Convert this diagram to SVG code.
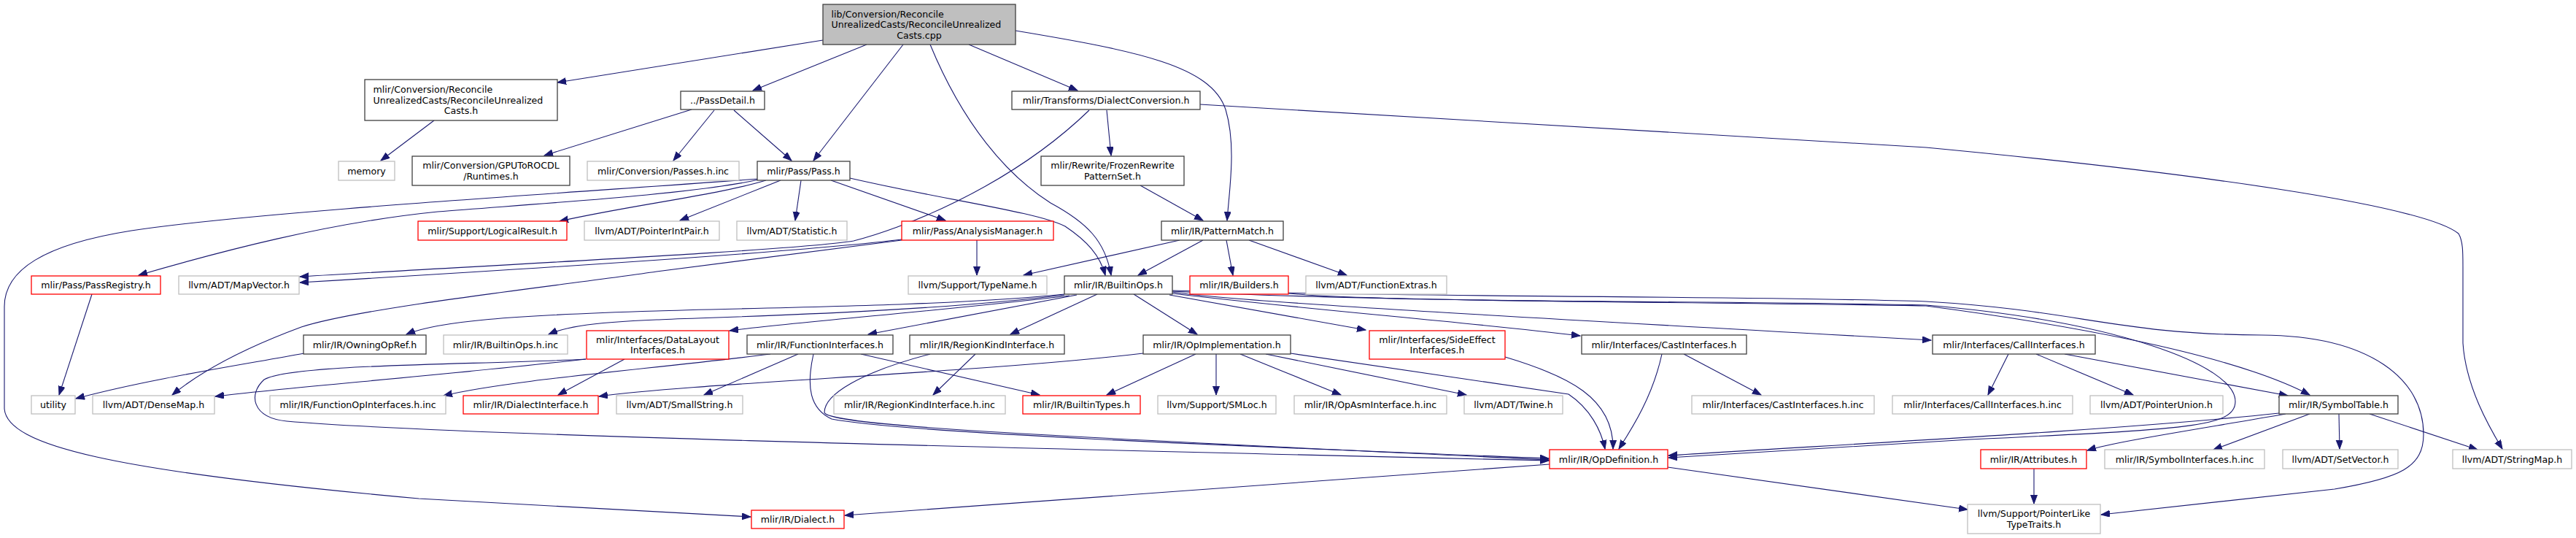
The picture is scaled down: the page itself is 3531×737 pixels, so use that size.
<svg xmlns="http://www.w3.org/2000/svg" width="3531" height="737" viewBox="0 0 3531 737">
<defs>
<style>
.n rect{fill:#fff;stroke-width:1.3}
.b rect{stroke:#404040}
.g rect{stroke:#bfbfbf}
.r rect{stroke:#ff0000}
.m rect{fill:#bfbfbf;stroke:#404040}
text{font-family:"DejaVu Sans",sans-serif;font-size:12.6px;fill:#000}
.c{text-anchor:middle}
.s{text-anchor:start}
#edges path{fill:none;stroke:#191970;stroke-width:1.1;marker-end:url(#ah)}
</style>
<marker id="ah" markerUnits="userSpaceOnUse" markerWidth="13" markerHeight="10" refX="12" refY="4.5" orient="auto"><path d="M0,0 L12,4.5 L0,9 z" fill="#191970" stroke="#191970" stroke-width="1"/></marker>
</defs>
<rect x="0" y="0" width="3531" height="737" fill="#fff"/>
<g id="edges">
<path d="M1128,55 L764,113"/>
<path d="M1188,61 L1032,124"/>
<path d="M1238,61 L1115,220"/>
<path d="M1275,61 C1320,170 1380,240 1440,278 C1490,305 1515,330 1523,377"/>
<path d="M1328,61 L1477,124"/>
<path d="M1392,42 C1560,70 1660,90 1680,150 C1695,200 1685,260 1682,302"/>
<path d="M595,165 L522,220"/>
<path d="M948,150 L746,213"/>
<path d="M979,151 L923,220"/>
<path d="M1006,151 L1085,220"/>
<path d="M1517,151 L1523,213"/>
<path d="M1645,143 L2640,202 C3000,236 3320,280 3370,320 C3376,330 3376,345 3376,365 L3376,470 C3380,530 3412,585 3430,615"/>
<path d="M1493,151 C1380,260 1230,315 1170,330 C1100,342 700,362 411,379"/>
<path d="M1236,328 C1100,345 700,370 411,387"/>
<path d="M1236,329 L900,372 C780,390 500,420 413,448 C340,475 280,505 236,541"/>
<path d="M1339,329 L1339,377"/>
<path d="M1617,329 L1403,377"/>
<path d="M1649,329 L1560,377"/>
<path d="M1681,329 L1690,377"/>
<path d="M1712,329 L1846,377"/>
<path d="M1563,254 L1649,302"/>
<path d="M1050,247 C980,268 870,280 767,303"/>
<path d="M1070,247 L932,302"/>
<path d="M1098,247 L1090,302"/>
<path d="M1139,247 L1296,302"/>
<path d="M1165,244 C1300,275 1420,290 1460,310 C1490,330 1508,350 1515,377"/>
<path d="M1040,246 C950,266 750,278 600,290 C450,305 300,345 190,377"/>
<path d="M1040,245 C800,263 350,290 180,316 C60,335 6,370 6,420 L6,560 C10,610 150,645 574,683 L1029,708"/>
<path d="M417,484 C330,500 200,520 104,546"/>
<path d="M126,403 L81,541"/>
<path d="M1459,403 C1300,420 1000,422 900,426 C700,432 600,440 557,458"/>
<path d="M1459,404 C1250,430 950,435 900,438 C800,442 770,450 752,458"/>
<path d="M1466,405 C1300,425 1100,440 1000,453"/>
<path d="M1476,404 L1190,458"/>
<path d="M1504,403 L1385,458"/>
<path d="M1554,403 L1641,458"/>
<path d="M1603,404 L1872,452"/>
<path d="M1607,402 C1800,425 2000,440 2166,460"/>
<path d="M1607,400 C1680,412 2000,430 2647,466"/>
<path d="M1607,399 C1900,414 2400,414 2640,419 C2800,440 3050,480 3166,541"/>
<path d="M1607,398 C2000,408 2400,405 2640,413 C2850,425 2900,458 3100,459 C3250,460 3322,520 3322,595 C3322,640 3290,655 3200,670 L2880,705"/>
<path d="M1766,402 C1900,415 2400,412 2640,418 C2900,440 3064,500 3064,550 C3064,585 3000,588 2700,602 L2287,627"/>
<path d="M3124,566 C2900,590 2500,610 2287,624"/>
<path d="M3133,567 C3000,590 2900,605 2861,617"/>
<path d="M3166,567 L3034,616"/>
<path d="M3206,567 L3207,615"/>
<path d="M3248,567 L3396,616"/>
<path d="M2753,485 L2725,541"/>
<path d="M2791,485 L2924,541"/>
<path d="M2830,485 L3136,542"/>
<path d="M2788,642 L2788,690"/>
<path d="M2286,640 L2697,698"/>
<path d="M2124,636 L1158,706"/>
<path d="M2278,485 C2265,545 2235,590 2219,615"/>
<path d="M2308,485 L2414,541"/>
<path d="M2063,489 C2150,515 2212,545 2211,615"/>
<path d="M1769,484 L2150,540 C2180,560 2195,590 2200,615"/>
<path d="M1639,485 L1517,541"/>
<path d="M1667,485 L1667,541"/>
<path d="M1700,485 L1838,541"/>
<path d="M1735,485 L2010,541"/>
<path d="M1567,484 C1350,510 950,525 821,543"/>
<path d="M1056,485 C900,505 700,520 608,542"/>
<path d="M1094,485 L965,541"/>
<path d="M1180,485 L1425,541"/>
<path d="M1115,485 C1105,530 1110,560 1140,574 C1250,595 1800,615 2123,628"/>
<path d="M1275,485 C1180,510 1130,540 1130,565 C1135,585 1500,600 2123,630"/>
<path d="M1337,485 L1279,541"/>
<path d="M803,492 C650,500 400,498 362,520 C340,540 345,572 393,577 C600,595 1300,612 2123,631"/>
<path d="M803,492 C600,515 400,530 295,543"/>
<path d="M856,492 L765,541"/>
</g>
<g id="n_main" class="n m"><rect x="1128" y="6" width="264" height="55"/><text class="s" x="1139.5" y="23.5">lib/Conversion/Reconcile</text><text class="s" x="1139.5" y="38">UnrealizedCasts/ReconcileUnrealized</text><text class="c" x="1260" y="52.5">Casts.cpp</text></g>
<g id="n_rch" class="n b"><rect x="500" y="109" width="264" height="56"/><text class="s" x="511.5" y="127">mlir/Conversion/Reconcile</text><text class="s" x="511.5" y="141.5">UnrealizedCasts/ReconcileUnrealized</text><text class="c" x="632" y="156">Casts.h</text></g>
<g id="n_passdetail" class="n b"><rect x="933" y="125" width="115" height="25"/><text class="c" x="990.5" y="142">../PassDetail.h</text></g>
<g id="n_dialectconv" class="n b"><rect x="1387" y="125" width="258" height="25"/><text class="c" x="1516" y="142">mlir/Transforms/DialectConversion.h</text></g>
<g id="n_memory" class="n g"><rect x="464" y="221" width="77" height="26"/><text class="c" x="502.5" y="238.5">memory</text></g>
<g id="n_gpu" class="n b"><rect x="565" y="214" width="216" height="40"/><text class="c" x="673" y="231">mlir/Conversion/GPUToROCDL</text><text class="c" x="673" y="246">/Runtimes.h</text></g>
<g id="n_passesinc" class="n g"><rect x="805" y="221" width="208" height="26"/><text class="c" x="909" y="238.5">mlir/Conversion/Passes.h.inc</text></g>
<g id="n_pass" class="n b"><rect x="1038" y="221" width="127" height="26"/><text class="c" x="1101.5" y="238.5">mlir/Pass/Pass.h</text></g>
<g id="n_frozen" class="n b"><rect x="1427" y="214" width="196" height="40"/><text class="c" x="1525" y="231">mlir/Rewrite/FrozenRewrite</text><text class="c" x="1525" y="246">PatternSet.h</text></g>
<g id="n_logical" class="n r"><rect x="573" y="303" width="204" height="26"/><text class="c" x="675" y="320.5">mlir/Support/LogicalResult.h</text></g>
<g id="n_pip" class="n g"><rect x="801" y="303" width="185" height="26"/><text class="c" x="893.5" y="320.5">llvm/ADT/PointerIntPair.h</text></g>
<g id="n_stat" class="n g"><rect x="1010" y="303" width="151" height="26"/><text class="c" x="1085.5" y="320.5">llvm/ADT/Statistic.h</text></g>
<g id="n_am" class="n r"><rect x="1236" y="303" width="208" height="26"/><text class="c" x="1340" y="320.5">mlir/Pass/AnalysisManager.h</text></g>
<g id="n_pm" class="n b"><rect x="1592" y="303" width="167" height="26"/><text class="c" x="1675.5" y="320.5">mlir/IR/PatternMatch.h</text></g>
<g id="n_passreg" class="n r"><rect x="43" y="378" width="177" height="25"/><text class="c" x="131.5" y="395">mlir/Pass/PassRegistry.h</text></g>
<g id="n_mapvector" class="n g"><rect x="245" y="378" width="165" height="25"/><text class="c" x="327.5" y="395">llvm/ADT/MapVector.h</text></g>
<g id="n_typename" class="n g"><rect x="1245" y="378" width="190" height="25"/><text class="c" x="1340" y="395">llvm/Support/TypeName.h</text></g>
<g id="n_builtinops" class="n b"><rect x="1459" y="378" width="148" height="25"/><text class="c" x="1533" y="395">mlir/IR/BuiltinOps.h</text></g>
<g id="n_builders" class="n r"><rect x="1631" y="378" width="135" height="25"/><text class="c" x="1698.5" y="395">mlir/IR/Builders.h</text></g>
<g id="n_funcextras" class="n g"><rect x="1790" y="378" width="193" height="25"/><text class="c" x="1886.5" y="395">llvm/ADT/FunctionExtras.h</text></g>
<g id="n_owning" class="n b"><rect x="416" y="459" width="168" height="26"/><text class="c" x="500" y="476.5">mlir/IR/OwningOpRef.h</text></g>
<g id="n_boinc" class="n g"><rect x="608" y="459" width="170" height="26"/><text class="c" x="693" y="476.5">mlir/IR/BuiltinOps.h.inc</text></g>
<g id="n_datalayout" class="n r"><rect x="804" y="453" width="195" height="39"/><text class="c" x="901.5" y="469.5">mlir/Interfaces/DataLayout</text><text class="c" x="901.5" y="484">Interfaces.h</text></g>
<g id="n_funcif" class="n b"><rect x="1024" y="459" width="200" height="26"/><text class="c" x="1124" y="476.5">mlir/IR/FunctionInterfaces.h</text></g>
<g id="n_regionkind" class="n b"><rect x="1247" y="459" width="212" height="26"/><text class="c" x="1353" y="476.5">mlir/IR/RegionKindInterface.h</text></g>
<g id="n_opimpl" class="n b"><rect x="1567" y="459" width="202" height="26"/><text class="c" x="1668" y="476.5">mlir/IR/OpImplementation.h</text></g>
<g id="n_sideeffect" class="n r"><rect x="1877" y="453" width="186" height="39"/><text class="c" x="1970" y="469.5">mlir/Interfaces/SideEffect</text><text class="c" x="1970" y="484">Interfaces.h</text></g>
<g id="n_castif" class="n b"><rect x="2168" y="459" width="226" height="26"/><text class="c" x="2281" y="476.5">mlir/Interfaces/CastInterfaces.h</text></g>
<g id="n_callif" class="n b"><rect x="2649" y="459" width="223" height="26"/><text class="c" x="2760.5" y="476.5">mlir/Interfaces/CallInterfaces.h</text></g>
<g id="n_utility" class="n g"><rect x="43" y="542" width="60" height="25"/><text class="c" x="73" y="559">utility</text></g>
<g id="n_densemap" class="n g"><rect x="127" y="542" width="167" height="25"/><text class="c" x="210.5" y="559">llvm/ADT/DenseMap.h</text></g>
<g id="n_foinc" class="n g"><rect x="370" y="542" width="241" height="25"/><text class="c" x="490.5" y="559">mlir/IR/FunctionOpInterfaces.h.inc</text></g>
<g id="n_dialectif" class="n r"><rect x="635" y="542" width="185" height="25"/><text class="c" x="727.5" y="559">mlir/IR/DialectInterface.h</text></g>
<g id="n_smallstring" class="n g"><rect x="845" y="542" width="173" height="25"/><text class="c" x="931.5" y="559">llvm/ADT/SmallString.h</text></g>
<g id="n_rkinc" class="n g"><rect x="1143" y="542" width="235" height="25"/><text class="c" x="1260.5" y="559">mlir/IR/RegionKindInterface.h.inc</text></g>
<g id="n_builtintypes" class="n r"><rect x="1402" y="542" width="161" height="25"/><text class="c" x="1482.5" y="559">mlir/IR/BuiltinTypes.h</text></g>
<g id="n_smloc" class="n g"><rect x="1587" y="542" width="162" height="25"/><text class="c" x="1668" y="559">llvm/Support/SMLoc.h</text></g>
<g id="n_opasminc" class="n g"><rect x="1774" y="542" width="209" height="25"/><text class="c" x="1878.5" y="559">mlir/IR/OpAsmInterface.h.inc</text></g>
<g id="n_twine" class="n g"><rect x="2007" y="542" width="135" height="25"/><text class="c" x="2074.5" y="559">llvm/ADT/Twine.h</text></g>
<g id="n_castinc" class="n g"><rect x="2319" y="542" width="250" height="25"/><text class="c" x="2444" y="559">mlir/Interfaces/CastInterfaces.h.inc</text></g>
<g id="n_callinc" class="n g"><rect x="2594" y="542" width="247" height="25"/><text class="c" x="2717.5" y="559">mlir/Interfaces/CallInterfaces.h.inc</text></g>
<g id="n_ptrunion" class="n g"><rect x="2865" y="542" width="182" height="25"/><text class="c" x="2956" y="559">llvm/ADT/PointerUnion.h</text></g>
<g id="n_symtab" class="n b"><rect x="3124" y="542" width="163" height="25"/><text class="c" x="3205.5" y="559">mlir/IR/SymbolTable.h</text></g>
<g id="n_opdef" class="n r"><rect x="2124" y="616" width="162" height="26"/><text class="c" x="2205" y="633.5">mlir/IR/OpDefinition.h</text></g>
<g id="n_attrs" class="n r"><rect x="2715" y="616" width="145" height="26"/><text class="c" x="2787.5" y="633.5">mlir/IR/Attributes.h</text></g>
<g id="n_syminc" class="n g"><rect x="2885" y="616" width="219" height="26"/><text class="c" x="2994.5" y="633.5">mlir/IR/SymbolInterfaces.h.inc</text></g>
<g id="n_setvector" class="n g"><rect x="3129" y="616" width="158" height="26"/><text class="c" x="3208" y="633.5">llvm/ADT/SetVector.h</text></g>
<g id="n_stringmap" class="n g"><rect x="3362" y="616" width="163" height="26"/><text class="c" x="3443.5" y="633.5">llvm/ADT/StringMap.h</text></g>
<g id="n_dialect" class="n r"><rect x="1030" y="699" width="127" height="25"/><text class="c" x="1093.5" y="716">mlir/IR/Dialect.h</text></g>
<g id="n_plt" class="n g"><rect x="2697" y="691" width="182" height="40"/><text class="c" x="2788" y="708">llvm/Support/PointerLike</text><text class="c" x="2788" y="722.5">TypeTraits.h</text></g>
</svg>
